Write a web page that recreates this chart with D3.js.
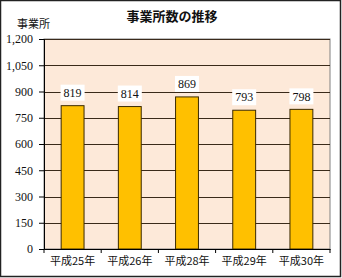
<!DOCTYPE html>
<html>
<head>
<meta charset="utf-8">
<script src="https://cdn.jsdelivr.net/npm/d3@7"></script>
<style>
body { margin:0; background:#fff; }
svg { display:block; }
</style>
</head>
<body>
<svg id="chart"></svg>
<script>
const categories = ['平成25年', '平成26年', '平成28年', '平成29年', '平成30年'];
const values = [819, 814, 869, 793, 798];
const yTicks = [0, 150, 300, 450, 600, 750, 900, 1050, 1200];

const width = 342, height = 278;
const plot = {left: 44, right: 330, top: 39, bottom: 249};

const svg = d3.select('#chart')
    .attr('width', width)
    .attr('height', height);

// outer frame
svg.append('rect')
    .attr('x', 0.5).attr('y', 0.5)
    .attr('width', width - 2).attr('height', height - 2)
    .attr('fill', 'white')
    .attr('stroke', '#222')
    .attr('stroke-width', 1.5);

const x = d3.scaleBand()
    .domain(categories)
    .range([plot.left, plot.right])
    .paddingInner(0.6)
    .paddingOuter(0.3);

const y = d3.scaleLinear()
    .domain([0, 1200])
    .range([plot.bottom, plot.top]);

// plot background
svg.append('rect')
    .attr('x', plot.left).attr('y', plot.top)
    .attr('width', plot.right - plot.left)
    .attr('height', plot.bottom - plot.top)
    .attr('fill', '#fde9d9')
    .attr('stroke', '#808080')
    .attr('stroke-width', 1);

// grid lines
svg.selectAll('.grid')
    .data(yTicks.filter(d => d > 0))
    .enter()
    .append('line')
    .attr('x1', plot.left).attr('x2', plot.right)
    .attr('y1', d => Math.round(y(d)) + 0.5)
    .attr('y2', d => Math.round(y(d)) + 0.5)
    .attr('stroke', '#3a2a1a')
    .attr('stroke-width', 1);

// bars
svg.selectAll('.bar')
    .data(values)
    .enter()
    .append('rect')
    .attr('x', (d, i) => x(categories[i]))
    .attr('y', d => y(d))
    .attr('width', x.bandwidth())
    .attr('height', d => y(0) - y(d))
    .attr('fill', '#ffc000')
    .attr('stroke', '#3a2a00')
    .attr('stroke-width', 1);

// y axis
const yAxis = svg.append('g')
    .attr('transform', `translate(${plot.left},0)`)
    .call(d3.axisLeft(y).tickValues(yTicks).tickSize(5).tickPadding(6)
        .tickFormat(d3.format(',')));
yAxis.select('.domain').attr('stroke', '#000');
yAxis.selectAll('.tick line').attr('stroke', '#000');
yAxis.selectAll('text')
    .attr('font-family', '"Liberation Serif", "DejaVu Serif", serif')
    .attr('font-size', 12)
    .attr('fill', '#111');

// x axis
const xAxis = svg.append('g')
    .attr('transform', `translate(0,${plot.bottom})`)
    .call(d3.axisBottom(x).tickSize(0).tickPadding(8));
xAxis.select('.domain').attr('stroke', '#000');
xAxis.selectAll('text')
    .attr('font-family', '"Noto Sans CJK JP", sans-serif')
    .attr('font-size', 11)
    .attr('fill', '#111');

// category boundary ticks
svg.selectAll('.ctick')
    .data(d3.range(categories.length + 1))
    .enter()
    .append('line')
    .attr('x1', i => plot.left + i * (plot.right - plot.left) / categories.length)
    .attr('x2', i => plot.left + i * (plot.right - plot.left) / categories.length)
    .attr('y1', plot.bottom)
    .attr('y2', plot.bottom + 4)
    .attr('stroke', '#000');

// value labels
const labels = svg.selectAll('.vlabel')
    .data(values)
    .enter()
    .append('g')
    .attr('transform', (d, i) => `translate(${x(categories[i]) + x.bandwidth() / 2},${y(d) - 13})`);
labels.append('rect')
    .attr('x', -12).attr('y', -8)
    .attr('width', 24).attr('height', 16)
    .attr('fill', 'white');
labels.append('text')
    .attr('text-anchor', 'middle')
    .attr('dy', '0.35em')
    .attr('font-family', '"Liberation Serif", "DejaVu Serif", serif')
    .attr('font-size', 12)
    .attr('fill', '#111')
    .text(d => d);

// title
svg.append('text')
    .attr('x', 172).attr('y', 21)
    .attr('text-anchor', 'middle')
    .attr('font-family', '"Noto Sans CJK JP", sans-serif')
    .attr('font-weight', 'bold')
    .attr('font-size', 13)
    .attr('fill', '#111')
    .text('事業所数の推移');

// y unit
svg.append('text')
    .attr('x', 17).attr('y', 28)
    .attr('font-family', '"Noto Sans CJK JP", sans-serif')
    .attr('font-size', 11)
    .attr('fill', '#111')
    .text('事業所');
</script>
</body>
</html>
